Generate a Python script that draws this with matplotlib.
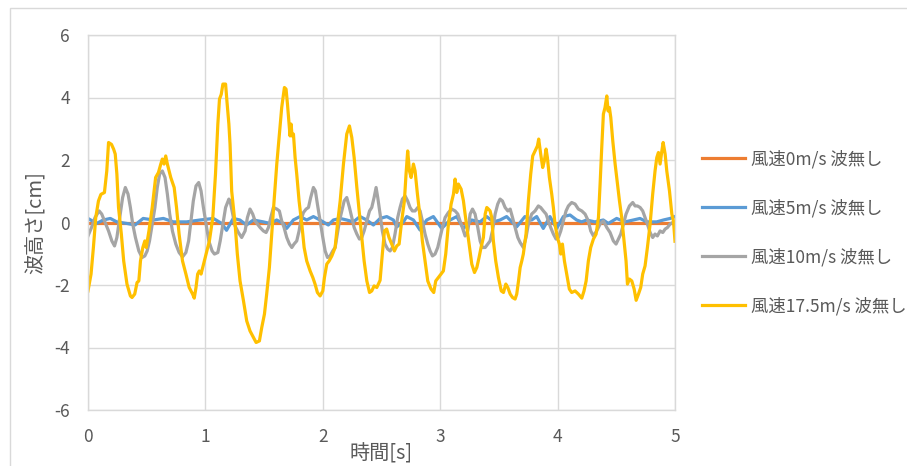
import matplotlib
matplotlib.use("Agg")
import matplotlib.pyplot as plt
from matplotlib.patches import Rectangle

plt.rcParams["font.family"] = ["Noto Sans CJK JP", "DejaVu Sans"]
plt.rcParams["axes.unicode_minus"] = False

TEXT_COLOR = "#595959"
GRID_COLOR = "#d9d9d9"

# 風速0m/s 波無し (flat)
t_ws0 = [0.0, 5.0]
h_ws0 = [0.0, 0.0]

# 風速5m/s 波無し
t_ws5 = [0.0, 0.074, 0.13, 0.19, 0.245, 0.33, 0.4, 0.47, 0.557, 0.642, 0.727, 0.84,
         0.954, 1.068, 1.139, 1.18, 1.237, 1.294, 1.35, 1.408, 1.493, 1.55, 1.607,
         1.664, 1.692, 1.749, 1.806, 1.863, 1.92, 1.976, 2.047, 2.09, 2.147, 2.204,
         2.26, 2.317, 2.374, 2.431, 2.488, 2.545, 2.601, 2.63, 2.687, 2.715, 2.772,
         2.828, 2.885, 2.942, 3.013, 3.084, 3.141, 3.197, 3.268, 3.339, 3.396, 3.453,
         3.51, 3.566, 3.651, 3.722, 3.779, 3.822, 3.878, 3.935, 3.992, 4.049, 4.106,
         4.162, 4.205, 4.247, 4.318, 4.389, 4.432, 4.503, 4.574, 4.645, 4.702, 4.759,
         4.844, 4.901, 4.958, 5.0]
h_ws5 = [0.13, -0.03, 0.08, 0.13, 0.02, -0.03, -0.08, 0.13, 0.08, 0.13, 0.02, 0.02,
         0.08, 0.13, -0.03, -0.25, 0.13, 0.08, -0.08, 0.08, 0.02, -0.03, 0.08,
         -0.03, -0.19, 0.08, 0.19, 0.08, 0.19, 0.08, -0.08, 0.08, 0.13, 0.08,
         0.02, 0.19, 0.08, -0.08, 0.13, 0.19, 0.08, -0.14, 0.02, 0.19, 0.08,
         -0.24, 0.08, 0.19, -0.19, 0.08, 0.19, -0.19, 0.08, 0.02, 0.19, 0.02,
         0.08, 0.19, -0.14, 0.19, 0.08, 0.19, -0.19, 0.19, -0.19, 0.19, 0.24,
         0.08, 0.02, 0.08, 0.02, 0.08, -0.03, 0.13, 0.02, 0.08, 0.13, 0.02,
         0.02, 0.08, 0.13, 0.19]

# 風速10m/s 波無し
t_ws10 = [0.0, 0.03, 0.06, 0.095, 0.117, 0.146, 0.175, 0.203, 0.226, 0.246, 0.275,
          0.295, 0.318, 0.341, 0.361, 0.381, 0.404, 0.433, 0.461, 0.484, 0.504, 0.524,
          0.547, 0.57, 0.59, 0.61, 0.633, 0.656, 0.676, 0.696, 0.719, 0.748, 0.776,
          0.805, 0.834, 0.857, 0.877, 0.897, 0.92, 0.943, 0.963, 0.983, 1.006, 1.029,
          1.057, 1.077, 1.106, 1.126, 1.149, 1.172, 1.2, 1.21, 1.233, 1.253, 1.281,
          1.309, 1.338, 1.358, 1.38, 1.403, 1.423, 1.443, 1.466, 1.494, 1.517, 1.537,
          1.557, 1.579, 1.608, 1.63, 1.65, 1.67, 1.693, 1.716, 1.736, 1.755, 1.778,
          1.798, 1.812, 1.835, 1.858, 1.878, 1.897, 1.92, 1.937, 1.954, 1.977, 2.0,
          2.02, 2.04, 2.062, 2.085, 2.105, 2.119, 2.142, 2.162, 2.182, 2.204, 2.227,
          2.247, 2.267, 2.29, 2.312, 2.332, 2.352, 2.375, 2.398, 2.417, 2.437, 2.454,
          2.468, 2.488, 2.507, 2.53, 2.553, 2.573, 2.593, 2.615, 2.638, 2.658, 2.678,
          2.701, 2.723, 2.743, 2.763, 2.786, 2.809, 2.829, 2.848, 2.871, 2.894, 2.914,
          2.934, 2.956, 2.979, 2.999, 3.019, 3.042, 3.07, 3.098, 3.127, 3.15, 3.169,
          3.189, 3.212, 3.235, 3.255, 3.275, 3.297, 3.32, 3.34, 3.36, 3.383, 3.405,
          3.425, 3.445, 3.468, 3.49, 3.51, 3.53, 3.553, 3.576, 3.596, 3.616, 3.638,
          3.661, 3.681, 3.708, 3.731, 3.751, 3.779, 3.808, 3.836, 3.856, 3.879, 3.902,
          3.921, 3.941, 3.964, 3.987, 4.007, 4.027, 4.049, 4.072, 4.092, 4.12, 4.149,
          4.177, 4.206, 4.234, 4.262, 4.282, 4.305, 4.333, 4.362, 4.39, 4.419, 4.447,
          4.475, 4.498, 4.518, 4.538, 4.561, 4.583, 4.612, 4.64, 4.66, 4.68, 4.703,
          4.725, 4.745, 4.765, 4.788, 4.81, 4.83, 4.85, 4.873, 4.896, 4.916, 4.936,
          4.958, 4.98, 5.0]
h_ws10 = [-0.43, -0.16, 0.16, 0.37, 0.27, 0.0, -0.27, -0.59, -0.75, -0.48, 0.27,
          0.8, 1.12, 0.91, 0.48, -0.05, -0.48, -0.91, -1.12, -1.07, -0.91, -0.59,
          -0.05, 0.48, 1.12, 1.55, 1.65, 1.44, 0.91, 0.27, -0.27, -0.69, -0.96,
          -1.1, -0.96, -0.59, 0.05, 0.69, 1.17, 1.28, 1.01, 0.48, -0.05, -0.59,
          -0.91, -1.01, -0.96, -0.59, -0.05, 0.48, 0.75, 0.69, 0.27, -0.11, -0.32,
          -0.48, -0.27, 0.16, 0.43, 0.27, 0.05, -0.05, -0.16, -0.27, -0.32, -0.16,
          0.16, 0.48, 0.43, 0.37, 0.05, -0.16, -0.48, -0.69, -0.8, -0.69, -0.59,
          -0.27, 0.05, 0.32, 0.43, 0.48, 0.8, 1.12, 1.01, 0.59, 0.05, -0.48,
          -0.91, -1.12, -1.07, -0.91, -0.8, -0.48, 0.05, 0.37, 0.69, 0.8, 0.48,
          0.16, -0.16, -0.37, -0.53, -0.48, -0.27, 0.05, 0.37, 0.48, 0.8, 1.12,
          0.8, 0.27, -0.27, -0.69, -0.85, -0.91, -0.8, -0.37, 0.16, 0.48, 0.75,
          0.85, 0.69, 0.48, 0.37, 0.37, 0.48, 0.37, 0.05, -0.37, -0.69, -0.91,
          -1.07, -1.01, -0.8, -0.48, -0.16, 0.16, 0.32, 0.43, 0.37, 0.27, 0.05,
          -0.16, -0.43, -0.27, 0.27, 0.43, 0.27, -0.16, -0.59, -0.8, -0.8, -0.69,
          -0.59, -0.27, 0.27, 0.59, 0.75, 0.69, 0.48, 0.37, 0.43, 0.16, -0.16,
          -0.48, -0.64, -0.8, -0.48, -0.05, 0.27, 0.37, 0.53, 0.48, 0.37, 0.27,
          0.05, -0.16, -0.37, -0.53, -0.48, -0.27, 0.05, 0.37, 0.53, 0.64, 0.59,
          0.43, 0.37, 0.27, 0.05, -0.27, -0.43, -0.27, -0.05, 0.05, -0.16, -0.32,
          -0.59, -0.69, -0.53, -0.37, -0.05, 0.27, 0.53, 0.64, 0.53, 0.53, 0.48,
          0.37, 0.16, -0.05, -0.32, -0.48, -0.37, -0.43, -0.27, -0.32, -0.21, -0.16,
          -0.05, 0.0, 0.0]

# 風速17.5m/s 波無し
t_ws175 = [0.0, 0.026, 0.046, 0.066, 0.089, 0.11, 0.14, 0.16, 0.175, 0.2, 0.218,
           0.232, 0.246, 0.26, 0.284, 0.304, 0.332, 0.361, 0.375, 0.398, 0.418, 0.433,
           0.447, 0.467, 0.484, 0.496, 0.519, 0.547, 0.576, 0.6, 0.62, 0.633, 0.648,
           0.662, 0.676, 0.705, 0.734, 0.754, 0.776, 0.805, 0.834, 0.862, 0.891, 0.905,
           0.92, 0.934, 0.948, 0.963, 0.977, 1.006, 1.034, 1.063, 1.086, 1.106, 1.12,
           1.135, 1.149, 1.172, 1.183, 1.2, 1.21, 1.224, 1.253, 1.272, 1.295, 1.324,
           1.352, 1.38, 1.409, 1.432, 1.46, 1.48, 1.503, 1.522, 1.545, 1.565, 1.585,
           1.608, 1.63, 1.65, 1.673, 1.687, 1.699, 1.713, 1.721, 1.73, 1.738, 1.75,
           1.764, 1.778, 1.798, 1.821, 1.841, 1.863, 1.892, 1.915, 1.934, 1.954, 1.977,
           2.0, 2.014, 2.034, 2.054, 2.077, 2.105, 2.125, 2.148, 2.176, 2.204, 2.227,
           2.247, 2.267, 2.29, 2.312, 2.332, 2.352, 2.375, 2.398, 2.417, 2.437, 2.46,
           2.488, 2.507, 2.525, 2.544, 2.564, 2.587, 2.61, 2.63, 2.65, 2.672, 2.695,
           2.709, 2.723, 2.738, 2.752, 2.772, 2.786, 2.806, 2.829, 2.848, 2.871, 2.894,
           2.922, 2.945, 2.962, 2.985, 3.007, 3.027, 3.047, 3.07, 3.093, 3.113, 3.127,
           3.141, 3.155, 3.178, 3.198, 3.212, 3.235, 3.255, 3.269, 3.292, 3.312, 3.331,
           3.348, 3.368, 3.383, 3.397, 3.411, 3.425, 3.439, 3.453, 3.473, 3.496, 3.52,
           3.539, 3.559, 3.576, 3.596, 3.616, 3.638, 3.652, 3.667, 3.681, 3.695, 3.708,
           3.731, 3.751, 3.771, 3.788, 3.808, 3.828, 3.839, 3.856, 3.873, 3.887, 3.902,
           3.913, 3.93, 3.95, 3.964, 3.978, 3.998, 4.015, 4.027, 4.041, 4.058, 4.078,
           4.1, 4.12, 4.149, 4.177, 4.206, 4.225, 4.243, 4.262, 4.282, 4.305, 4.328,
           4.348, 4.362, 4.376, 4.39, 4.404, 4.419, 4.43, 4.441, 4.453, 4.47, 4.49,
           4.51, 4.527, 4.546, 4.566, 4.583, 4.595, 4.612, 4.632, 4.652, 4.669, 4.689,
           4.708, 4.725, 4.745, 4.765, 4.788, 4.81, 4.83, 4.845, 4.859, 4.873, 4.888,
           4.899, 4.916, 4.93, 4.953, 4.973, 4.987, 5.0]
h_ws175 = [-2.19, -1.65, -0.8, 0.16, 0.69, 0.9, 0.96, 1.65, 2.56, 2.5, 2.35,
           2.19, 1.55, 0.48, -0.37, -1.23, -1.97, -2.35, -2.4, -2.29, -1.92, -1.87,
           -1.23, -0.8, -0.59, -0.8, -0.27, 0.48, 1.44, 1.6, 1.87, 2.03, 1.87,
           2.13, 1.87, 1.44, 1.12, 0.48, -0.37, -1.23, -1.65, -2.08, -2.29, -2.42,
           -2.08, -1.65, -1.55, -1.65, -1.44, -1.01, -0.59, 0.16, 1.55, 3.15, 3.95,
           4.1, 4.43, 4.43, 3.9, 3.15, 2.5, 1.0, -0.05, -1.01, -1.87, -2.5,
           -3.15, -3.47, -3.68, -3.84, -3.79, -3.36, -2.93, -2.29, -1.44, -0.37, 0.69,
           1.87, 2.83, 3.68, 4.32, 4.27, 3.79, 3.15, 2.77, 3.15, 2.77, 2.83,
           2.08, 1.55, 0.69, -0.05, -0.8, -1.23, -1.55, -1.76, -1.97, -2.24, -2.35,
           -2.19, -1.76, -1.33, -1.23, -1.07, -0.8, -0.05, 0.69, 1.87, 2.83, 3.09,
           2.72, 2.08, 1.12, 0.27, -0.48, -1.23, -1.87, -2.24, -2.19, -2.03, -2.08,
           -1.85, -1.01, -0.27, -0.21, -0.48, -0.69, -0.91, -0.75, -0.69, 0.05, 0.69,
           1.55, 2.29, 1.65, 1.44, 1.87, 1.65, 0.91, 0.16, -0.59, -1.23, -1.87,
           -2.13, -2.24, -1.87, -1.76, -1.65, -1.55, -1.01, -0.05, 0.59, 0.91, 1.39,
           0.96, 1.23, 1.07, 0.69, 0.27, -0.37, -0.91, -1.33, -1.6, -1.44, -1.12,
           -0.8, -0.48, 0.27, 0.48, 0.43, 0.37, 0.16, -0.59, -1.23, -1.76, -2.19,
           -2.24, -1.97, -2.08, -2.29, -2.4, -2.45, -2.29, -1.87, -1.44, -1.23, -1.01,
           -0.37, 0.69, 1.55, 2.13, 2.29, 2.45, 2.67, 2.19, 1.76, 1.97, 2.35,
           2.08, 1.44, 0.91, 0.48, -0.05, -0.48, -0.69, -1.01, -0.69, -1.23, -1.65,
           -2.13, -2.24, -2.19, -2.29, -2.42, -2.19, -1.87, -1.23, -0.8, -0.53, -0.37,
           0.16, 1.23, 2.4, 3.47, 3.68, 4.05, 3.57, 3.68, 3.36, 2.61, 1.87,
           1.23, 0.69, 0.16, -0.59, -1.23, -1.97, -1.81, -1.87, -2.13, -2.49, -2.29,
           -2.08, -1.65, -1.39, -0.8, -0.05, 0.91, 1.65, 2.08, 2.24, 1.87, 2.29,
           2.56, 2.19, 1.65, 1.01, 0.27, 0.05, -0.6]

series_labels = ["風速0m/s 波無し", "風速5m/s 波無し", "風速10m/s 波無し", "風速17.5m/s 波無し"]
series_colors = ["#ED7D31", "#5B9BD5", "#A5A5A5", "#FFC000"]

x_ticks = [0, 1, 2, 3, 4, 5]
y_ticks = [-6, -4, -2, 0, 2, 4, 6]


def main():
    fig = plt.figure(figsize=(9.07, 4.66), dpi=100)
    ax = fig.add_axes([88 / 907, 56 / 466, 587 / 907, 375 / 466])

    # chart area border (Excel style)
    fig.add_artist(Rectangle((10 / 907, -0.1), 1.5, (466 - 8) / 466 + 0.1,
                             transform=fig.transFigure, fill=False,
                             edgecolor=GRID_COLOR, lw=1.0))

    all_data = [(t_ws0, h_ws0), (t_ws5, h_ws5), (t_ws10, h_ws10), (t_ws175, h_ws175)]
    for (t, h), label, color in zip(all_data, series_labels, series_colors):
        ax.plot(t, h, color=color, lw=2.3, label=label, solid_joinstyle="round")

    ax.set_xlim(0, 5)
    ax.set_ylim(-6, 6)
    ax.set_xticks(x_ticks)
    ax.set_yticks(y_ticks)
    ax.grid(True, color=GRID_COLOR, lw=1.0)
    ax.set_axisbelow(True)
    for spine in ax.spines.values():
        spine.set_color(GRID_COLOR)
        spine.set_linewidth(1.0)
    ax.tick_params(length=0, labelsize=12.5, colors=TEXT_COLOR)
    ax.tick_params(axis="x", pad=13)
    ax.tick_params(axis="y", pad=13)

    ax.set_xlabel("時間[s]", fontsize=14.5, color=TEXT_COLOR, va="center")
    ax.xaxis.set_label_coords(0.5, -(454 - 410) / 375)
    ax.set_ylabel("波高さ[cm]", fontsize=14.5, color=TEXT_COLOR, va="center")
    ax.yaxis.set_label_coords(-(88 - 36) / 587, 0.5)

    leg = fig.legend(loc="upper left", bbox_to_anchor=(695 / 907, 1 - 143 / 466),
                     frameon=False, fontsize=12.5, handlelength=2.5,
                     handletextpad=0.3, labelspacing=1.75, borderaxespad=0)
    for text in leg.get_texts():
        text.set_color(TEXT_COLOR)

    fig.savefig("out.png", dpi=100)


if __name__ == "__main__":
    main()
